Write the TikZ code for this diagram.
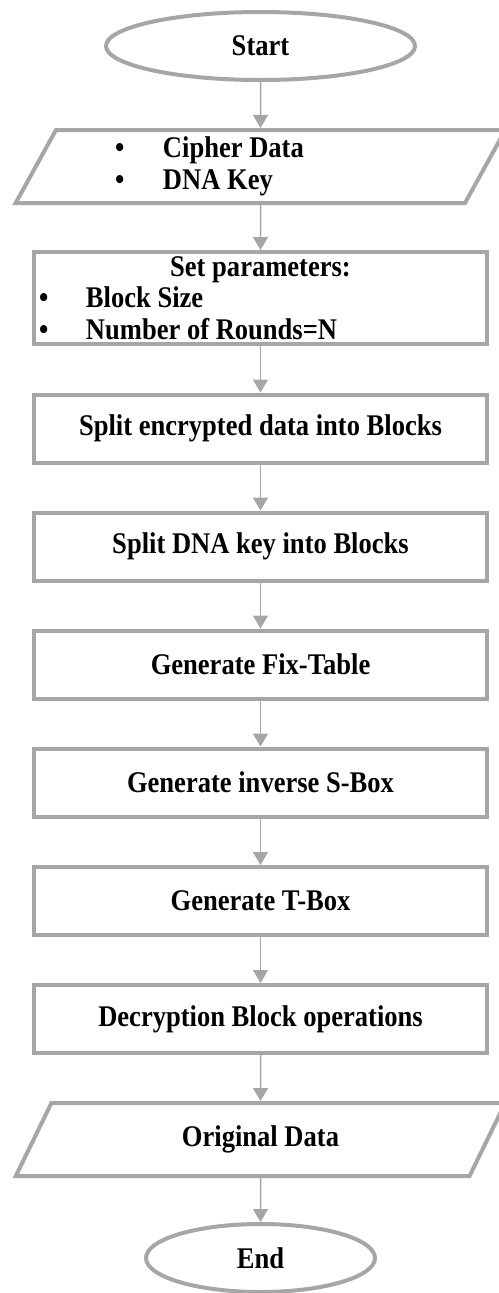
\documentclass[tikz,border=0pt]{standalone}
\usepackage{fontspec}
\setmainfont{Liberation Serif}[FakeStretch=0.885]
\usetikzlibrary{shapes.geometric,arrows.meta}
\definecolor{linegray}{HTML}{A6A6A6}

\begin{document}
\begin{tikzpicture}[
        x               = 1pt,
        y               = -1pt,
        font            = \fontsize{30}{31.5}\selectfont\bfseries,
        terminal/.style = {ellipse, draw=linegray, line width=4pt, inner sep=0pt, minimum height=68pt},
        iobox/.style    = {trapezium, trapezium left angle=64, trapezium right angle=116,
                           trapezium stretches=true, draw=linegray, line width=4pt,
                           minimum width=490pt, minimum height=73pt, inner sep=0pt, align=center},
        procbox/.style  = {rectangle, draw=linegray, line width=4pt, inner sep=0pt,
                           minimum width=453pt, minimum height=68pt, align=center},
        flow/.style     = {draw=linegray, line width=1.5pt, -{Triangle[width=15pt,length=13pt]}},
      ]
    \useasboundingbox (0,0) rectangle (498,1293);

    \node[terminal, minimum width=309pt] (start) at (260.5,46) {Start};
    \node[iobox] (cipher) at (260.5,166.5) {%
        \makebox[291pt][l]{\makebox[48pt][l]{\textbullet}Cipher Data}\\
        \makebox[291pt][l]{\makebox[48pt][l]{\textbullet}DNA Key}};
    \node[procbox, minimum height=92pt] (params) at (260.5,298) {%
        \makebox[443pt][c]{Set parameters:}\\
        \makebox[443pt][l]{\makebox[47pt][l]{\textbullet}Block Size}\\
        \makebox[443pt][l]{\makebox[47pt][l]{\textbullet}Number of Rounds=N}};
    \node[procbox] (splitdata) at (260.5,428.5) {Split encrypted data into Blocks};
    \node[procbox] (splitkey)  at (260.5,546.5) {Split DNA key into Blocks};
    \node[procbox] (fixtable)  at (260.5,664.5) {Generate Fix-Table};
    \node[procbox] (invsbox)   at (260.5,782.5) {Generate inverse S-Box};
    \node[procbox] (tbox)      at (260.5,901)   {Generate T-Box};
    \node[procbox] (decrypt)   at (260.5,1019)  {Decryption Block operations};
    \node[iobox] (original) at (260.5,1139.5) {Original Data};
    \node[terminal, minimum width=229pt] (end) at (260.5,1258) {End};

    % connectors
    \draw[flow] (start) -- (cipher);
    \draw[flow] (cipher) -- (params);
    \draw[flow] (params) -- (splitdata);
    \draw[flow] (splitdata) -- (splitkey);
    \draw[flow] (splitkey) -- (fixtable);
    \draw[flow] (fixtable) -- (invsbox);
    \draw[flow] (invsbox) -- (tbox);
    \draw[flow] (tbox) -- (decrypt);
    \draw[flow] (decrypt) -- (original);
    \draw[flow] (original) -- (end);
\end{tikzpicture}
\end{document}
